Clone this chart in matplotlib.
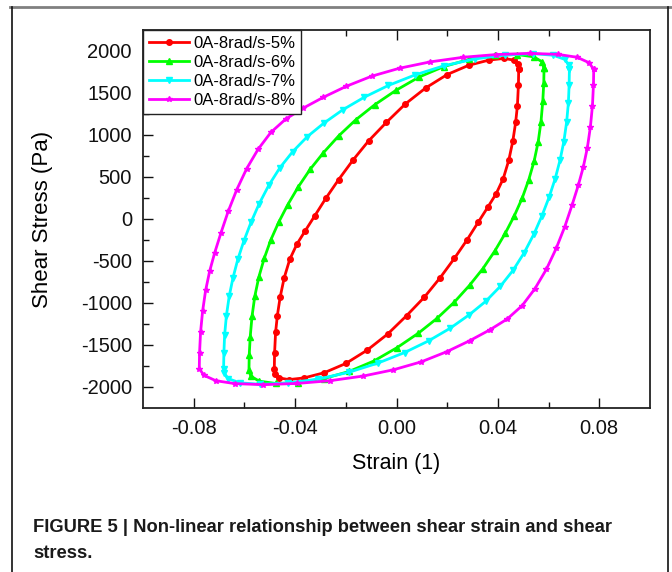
import matplotlib
matplotlib.use("Agg")
import matplotlib.pyplot as plt
from matplotlib.lines import Line2D
from matplotlib import font_manager

# series: full loops (strain, stress) going clockwise
labels = ["0A-8rad/s-5%", "0A-8rad/s-6%", "0A-8rad/s-7%", "0A-8rad/s-8%"]
colors = ["#ff0000", "#00ff00", "#00ffff", "#ff00ff"]
markers = ["o", "^", "v", "*"]

strain_5 = [0.0482, 0.0481, 0.0477, 0.0470, 0.0459, 0.0443, 0.0421, 0.0393, 0.0360, 0.0322,
            0.0278, 0.0228, 0.0172, 0.0110, 0.0040, -0.0035, -0.0115, -0.0200, -0.0285, -0.0365,
            -0.0425, -0.0465, -0.0480, -0.0482,
            -0.0481, -0.0477, -0.0470, -0.0459, -0.0443, -0.0421, -0.0393, -0.0360, -0.0322,
            -0.0278, -0.0228, -0.0172, -0.0110, -0.0040, 0.0035, 0.0115, 0.0200, 0.0285, 0.0365,
            0.0425, 0.0465, 0.0480, 0.0482]
stress_5 = [1780, 1600, 1350, 1150, 930, 700, 480, 300, 140, -40,
            -250, -470, -700, -930, -1150, -1370, -1560, -1720, -1830, -1892,
            -1912, -1890, -1840, -1780,
            -1600, -1350, -1150, -930, -700, -480, -300, -140, 40,
            250, 470, 700, 930, 1150, 1370, 1560, 1720, 1830, 1892,
            1912, 1890, 1840, 1780]

strain_6 = [0.0582, 0.0581, 0.0577, 0.0570, 0.0559, 0.0543, 0.0522, 0.0496, 0.0465, 0.0429,
            0.0388, 0.0341, 0.0288, 0.0228, 0.0161, 0.0086, 0.0003, -0.0089, -0.0187, -0.0287,
            -0.0387, -0.0477, -0.0542, -0.0575, -0.0582,
            -0.0581, -0.0577, -0.0570, -0.0559, -0.0543, -0.0522, -0.0496, -0.0465, -0.0429,
            -0.0388, -0.0341, -0.0288, -0.0228, -0.0161, -0.0086, -0.0003, 0.0089, 0.0187, 0.0287,
            0.0387, 0.0477, 0.0542, 0.0575, 0.0582]
stress_6 = [1800, 1620, 1400, 1160, 920, 690, 470, 250, 40, -170,
            -380, -590, -790, -990, -1180, -1360, -1530, -1690, -1815, -1900,
            -1950, -1958, -1930, -1870, -1800,
            -1620, -1400, -1160, -920, -690, -470, -250, -40, 170,
            380, 590, 790, 990, 1180, 1360, 1530, 1690, 1815, 1900,
            1950, 1958, 1930, 1870, 1800]

strain_7 = [0.0682, 0.0681, 0.0678, 0.0671, 0.0660, 0.0645, 0.0626, 0.0602, 0.0574, 0.0542,
            0.0504, 0.0460, 0.0410, 0.0352, 0.0287, 0.0212, 0.0127, 0.0032, -0.0073, -0.0188,
            -0.0308, -0.0428, -0.0538, -0.0618, -0.0664, -0.0680, -0.0682,
            -0.0681, -0.0678, -0.0671, -0.0660, -0.0645, -0.0626, -0.0602, -0.0574, -0.0542,
            -0.0504, -0.0460, -0.0410, -0.0352, -0.0287, -0.0212, -0.0127, -0.0032, 0.0073, 0.0188,
            0.0308, 0.0428, 0.0538, 0.0618, 0.0664, 0.0680, 0.0682]
stress_7 = [1780, 1600, 1380, 1150, 920, 700, 480, 260, 40, -180,
            -400, -610, -800, -980, -1140, -1300, -1450, -1590, -1715, -1825,
            -1905, -1952, -1968, -1950, -1900, -1830, -1780,
            -1600, -1380, -1150, -920, -700, -480, -260, -40, 180,
            400, 610, 800, 980, 1140, 1300, 1450, 1590, 1715, 1825,
            1905, 1952, 1968, 1950, 1900, 1830, 1780]

strain_8 = [0.0778, 0.0777, 0.0773, 0.0765, 0.0753, 0.0737, 0.0717, 0.0693, 0.0664, 0.0630,
            0.0591, 0.0546, 0.0496, 0.0437, 0.0368, 0.0288, 0.0198, 0.0098, -0.0012, -0.0132,
            -0.0262, -0.0394, -0.0525, -0.0637, -0.0713, -0.0760, -0.0778,
            -0.0777, -0.0773, -0.0765, -0.0753, -0.0737, -0.0717, -0.0693, -0.0664, -0.0630,
            -0.0591, -0.0546, -0.0496, -0.0437, -0.0368, -0.0288, -0.0198, -0.0098, 0.0012, 0.0132,
            0.0262, 0.0394, 0.0525, 0.0637, 0.0713, 0.0760, 0.0778]
stress_8 = [1780, 1600, 1350, 1100, 850, 620, 400, 170, -90, -350,
            -600, -830, -1030, -1190, -1320, -1450, -1580, -1700, -1795, -1870,
            -1925, -1958, -1972, -1960, -1925, -1860, -1780,
            -1600, -1350, -1100, -850, -620, -400, -170, 90, 350,
            600, 830, 1030, 1190, 1320, 1450, 1580, 1700, 1795, 1870,
            1925, 1958, 1972, 1960, 1925, 1860, 1780]

strains = [strain_5, strain_6, strain_7, strain_8]
stresses = [stress_5, stress_6, stress_7, stress_8]

xticks = [-0.08, -0.04, 0.00, 0.04, 0.08]
yticks = [-2000, -1500, -1000, -500, 0, 500, 1000, 1500, 2000]

names = {f.name for f in font_manager.fontManager.ttflist}
sans = "Liberation Sans" if "Liberation Sans" in names else "DejaVu Sans"
narrow = "Liberation Sans Narrow" if "Liberation Sans Narrow" in names else sans
plt.rcParams["font.family"] = [sans, "DejaVu Sans"]
plt.rcParams["axes.unicode_minus"] = False

W, H = 672, 572
fig = plt.figure(figsize=(W / 100, H / 100), dpi=100)
ax = fig.add_axes([143 / W, 1 - 408 / H, 507 / W, 378 / H])

for sx, sy, c, m, lab in zip(strains, stresses, colors, markers, labels):
    ax.plot(sx, sy, color=c, lw=2.0, marker=m, ms=4, mec=c, mfc=c, label=lab)

ax.set_xlim(-0.1, 0.1)
ax.set_ylim(-2250, 2250)
ax.set_xticks(xticks)
ax.set_xticklabels(["%.2f" % v for v in xticks])
ax.set_xticks([-0.06, -0.02, 0.02, 0.06], minor=True)
ax.set_yticks(yticks)
ax.set_yticks([v + 250 for v in yticks[:-1]], minor=True)
ax.tick_params(which="both", direction="in", top=True, right=False, width=1.0,
               labelsize=14.5, colors="#111111")
ax.tick_params(which="major", length=7, pad=8)
ax.tick_params(which="minor", length=4)
for s in ax.spines.values():
    s.set_linewidth(1.3)
    s.set_color("#222222")

ax.set_xlabel("Strain (1)", fontsize=15.5)
ax.set_ylabel("Shear Stress (Pa)", fontsize=16)
ax.xaxis.set_label_coords(0.5, -0.118)
ax.yaxis.set_label_coords(-0.178, 0.5)

leg = ax.legend(loc="upper left", bbox_to_anchor=(0, 1), borderaxespad=0, fontsize=12,
                frameon=True, fancybox=False, framealpha=1, edgecolor="#222222",
                handlelength=2.4, handletextpad=0.25, labelspacing=0.25, borderpad=0.35)
leg.get_frame().set_linewidth(1.0)

cap_font = dict(fontsize=13.2, fontweight="bold", family=[narrow, "DejaVu Sans"],
                va="center", color="#1a1a1a")
fig.text(33 / W, 1 - 527 / H,
         "FIGURE 5 | Non-linear relationship between shear strain and shear", **cap_font)
fig.text(33 / W, 1 - 553 / H, "stress.", **cap_font)

# page frame
fig.add_artist(Line2D([10 / W, 1], [1 - 7 / H, 1 - 7 / H], color="#808080", lw=2))
fig.add_artist(Line2D([12 / W, 12 / W], [0, 1 - 7 / H], color="#111111", lw=1.2))
fig.add_artist(Line2D([668 / W, 668 / W], [0, 1 - 7 / H], color="#111111", lw=1.2))

fig.savefig("out.png", dpi=100)
